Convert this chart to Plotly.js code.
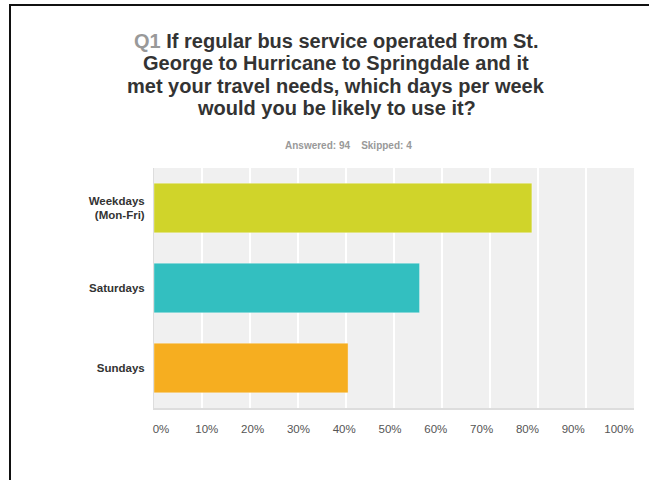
<!DOCTYPE html>
<html>
<head>
<meta charset="utf-8">
<script src="https://cdn.plot.ly/plotly-3.0.1.min.js"></script>
<style>
  html, body { margin: 0; padding: 0; background: #fff; }
  #chart { position: absolute; left: 0; top: 0; width: 649px; height: 480px; }
  #frame { position: absolute; left: 9px; top: 4px; width: 640px; height: 476px;
           border-top: 2px solid #111; border-left: 2px solid #111; pointer-events: none; }
</style>
</head>
<body>
<div id="chart"></div>
<div id="frame"></div>
<script>
const categories = ['Weekdays<br>(Mon-Fri)', 'Saturdays', 'Sundays'];
const percents = [78.72, 55.32, 40.43];
const barColors = ['#d0d42a', '#33bfc0', '#f6ae20'];
const tickValues = [0, 10, 20, 30, 40, 50, 60, 70, 80, 90, 100];
const tickLabels = tickValues.map(v => v + '%');
const titleLines = [
  '<span style="color:#999">Q1</span> If regular bus service operated from St.',
  'George to Hurricane to Springdale and it',
  'met your travel needs, which days per week',
  'would you be likely to use it?'
];
const subtitle = 'Answered: 94&nbsp;&nbsp;&nbsp; Skipped: 4';

const FONT = 'Liberation Sans, Arial, sans-serif';
const plotTop = 167.5, plotH = 240.5, plotL = 154, plotW = 480;
const pyToPaper = py => (plotTop + plotH - py) / plotH;
const pxToPaper = px => (px - plotL) / plotW;

const trace = {
  type: 'bar',
  orientation: 'h',
  x: percents,
  y: categories,
  width: 0.62,
  marker: { color: barColors, line: { color: 'rgba(255,255,255,0.35)', width: 1 } },
  hoverinfo: 'x+y'
};
// invisible helper trace so the label axis is drawn
const labelTrace = {
  type: 'scatter', mode: 'markers', x: [0, 100], y: [categories[0], categories[0]],
  xaxis: 'x2', yaxis: 'y', marker: { opacity: 0 }, hoverinfo: 'skip'
};

const annotations = titleLines.map((t, i) => ({
  text: '<b>' + t + '</b>',
  xref: 'paper', yref: 'paper',
  x: pxToPaper(336), y: pyToPaper([40, 62.5, 85, 107][i]),
  xanchor: 'center', yanchor: 'middle', showarrow: false,
  font: { family: FONT, size: 20, color: '#333' }
}));
annotations.push({
  text: '<b>' + subtitle + '</b>',
  xref: 'paper', yref: 'paper',
  x: pxToPaper(348), y: pyToPaper(145),
  xanchor: 'center', yanchor: 'middle', showarrow: false,
  font: { family: FONT, size: 10, color: '#999' }
});

// label axis: labels sit slightly inside the gridline positions, as in the source
const lblA = -7 * 104.8 / 480;
const lblB = lblA + 104.8;

const layout = {
  width: 649, height: 480,
  paper_bgcolor: '#ffffff',
  plot_bgcolor: '#f0f0f0',
  margin: { l: plotL, r: 649 - plotL - plotW, t: plotTop, b: 480 - plotTop - plotH, pad: 0 },
  showlegend: false,
  font: { family: FONT, color: '#333' },
  annotations: annotations,
  xaxis: {
    range: [0, 100],
    tickvals: tickValues,
    showticklabels: false,
    showgrid: true, gridcolor: '#ffffff', gridwidth: 2,
    zeroline: false,
    showline: true, linecolor: '#dddddd', linewidth: 2,
    ticks: '',
    fixedrange: true
  },
  xaxis2: {
    overlaying: 'x', side: 'bottom', anchor: 'y',
    range: [lblA, lblB],
    tickvals: tickValues,
    ticktext: tickLabels,
    showgrid: false, zeroline: false, showline: false,
    ticks: '',
    ticklabelstandoff: 12,
    tickfont: { family: FONT, size: 11.5, color: '#555' },
    fixedrange: true
  },
  yaxis: {
    autorange: false,
    range: [2.5, -0.5],
    type: 'category',
    showgrid: false, zeroline: false,
    showline: true, linecolor: '#dddddd', linewidth: 1,
    ticks: '',
    ticklabelstandoff: 6,
    tickfont: { family: FONT, size: 11.5, color: '#333', weight: 'bold' },
    fixedrange: true
  }
};

Plotly.newPlot('chart', [trace, labelTrace], layout, { displayModeBar: false, staticPlot: true });
</script>
</body>
</html>
